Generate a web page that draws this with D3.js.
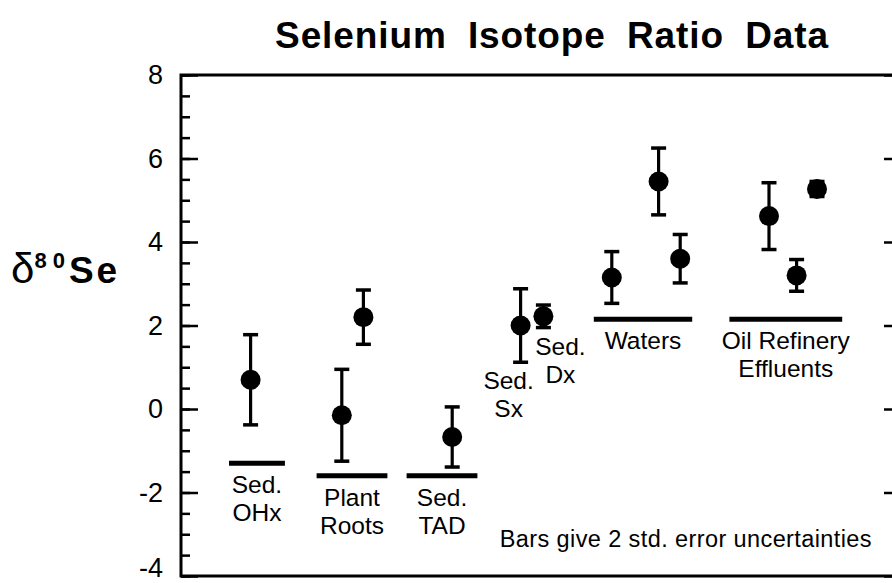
<!DOCTYPE html>
<html>
<head>
<meta charset="utf-8">
<script src="https://cdn.jsdelivr.net/npm/d3@7"></script>
<style>
  html, body { margin: 0; padding: 0; background: #fff; }
  svg { display: block; }
  text { font-family: "Liberation Sans", Arial, Helvetica, sans-serif; fill: #000; }
</style>
</head>
<body>
<svg id="chart" width="892" height="583"></svg>
<script>
// Individual measurements: position along the sample axis, δ80Se value, 2 s.e. uncertainty
const sampleGroup   = ["Sed. OHx", "Plant Roots", "Plant Roots", "Sed. TAD", "Sed. Sx", "Sed. Dx",
                       "Waters", "Waters", "Waters",
                       "Oil Refinery Effluents", "Oil Refinery Effluents", "Oil Refinery Effluents"];
const samplePosition = [2.9, 6.7, 7.6, 11.3, 14.15, 15.1, 17.95, 19.9, 20.8, 24.5, 25.65, 26.5];
const delta80Se      = [0.7, -0.15, 2.2, -0.67, 2.0, 2.22, 3.15, 5.45, 3.6, 4.62, 3.2, 5.27];
const twoStdErr      = [1.08, 1.1, 0.65, 0.72, 0.88, 0.27, 0.62, 0.8, 0.58, 0.8, 0.38, 0.18];

// Sample groups: label lines and the reference bar drawn under each group
const groupName      = ["Sed. OHx", "Plant Roots", "Sed. TAD", "Sed. Sx", "Sed. Dx", "Waters", "Oil Refinery Effluents"];
const groupLabel     = [["Sed.", "OHx"], ["Plant", "Roots"], ["Sed.", "TAD"], ["Sed.", "Sx"], ["Sed.", "Dx"],
                        ["Waters"], ["Oil Refinery", "Effluents"]];
const groupBarValue  = [-1.3, -1.6, -1.6, null, null, 2.15, 2.15];
const groupBarStart  = [2.0, 5.65, 9.4, null, null, 17.2, 22.85];
const groupBarEnd    = [4.33, 8.6, 12.35, null, null, 21.3, 27.55];

// Axis ticks
const majorTicks = [-4, -2, 0, 2, 4, 6, 8];
const minorTicks = d3.range(-4, 8.01, 0.5);

const chartTitle = "Selenium Isotope Ratio Data";
const footnote   = "Bars give 2 std. error uncertainties";

// ---- layout ----
const frame = { left: 181, right: 901, top: 75, bottom: 576 };
const font = '"Liberation Sans", Arial, Helvetica, sans-serif';
// horizontal nudges for labels of groups that have no reference bar
const labelNudge = { "Sed. Sx": -12, "Sed. Dx": 17 };

const svg = d3.select("#chart");

const x = d3.scaleLinear().domain([0, 30]).range([frame.left, frame.right]);
const y = d3.scaleLinear().domain([-4, 8]).range([frame.bottom, frame.top]);

// title
svg.append("text")
  .attr("x", 552).attr("y", 48)
  .attr("text-anchor", "middle")
  .style("font-size", "37px").style("font-weight", "bold")
  .style("word-spacing", "10px").style("letter-spacing", "0.9px")
  .text(chartTitle);

// y axis title: δ80Se
const yTitle = svg.append("text")
  .attr("x", 11).attr("y", 283)
  .style("font-weight", "bold");
yTitle.append("tspan").style("font-size", "42px").style("font-weight", "normal").text("δ");
yTitle.append("tspan").attr("dy", -15).style("font-size", "22px").style("letter-spacing", "6px").text("80");
yTitle.append("tspan").attr("dy", 15).attr("dx", -2).style("font-size", "37px").style("letter-spacing", "3px").text("Se");

const g = svg.append("g");

// minor ticks (left, inward)
g.append("g")
  .attr("transform", `translate(${frame.left},0)`)
  .call(d3.axisLeft(y).tickValues(minorTicks).tickSize(-9).tickFormat(""))
  .call(s => s.select(".domain").remove())
  .call(s => s.selectAll("line").attr("stroke", "#000").attr("stroke-width", 2.5));

// major ticks with labels (left, inward); the bottom label is lifted to stay on the page
g.append("g")
  .attr("transform", `translate(${frame.left},0)`)
  .call(d3.axisLeft(y).tickValues(majorTicks).tickSize(-17).tickPadding(18).tickFormat(d3.format("d")))
  .call(s => s.select(".domain").remove())
  .call(s => s.selectAll("line").attr("stroke", "#000").attr("stroke-width", 2.5))
  .call(s => s.selectAll("text")
      .style("font-family", font).style("font-size", "27px").attr("fill", "#000")
      .attr("dy", d => d === -4 ? "0.02em" : "0.32em")
      .text(d => d < 0 ? "-" + Math.abs(d) : d));

// major ticks on the right side
g.append("g")
  .attr("transform", `translate(${frame.right},0)`)
  .call(d3.axisRight(y).tickValues(majorTicks).tickSize(-17).tickFormat(""))
  .call(s => s.select(".domain").remove())
  .call(s => s.selectAll("line").attr("stroke", "#000").attr("stroke-width", 2.5));

// frame
g.append("rect")
  .attr("x", frame.left).attr("y", frame.top)
  .attr("width", frame.right - frame.left).attr("height", frame.bottom - frame.top)
  .attr("fill", "none").attr("stroke", "#000").attr("stroke-width", 3);

// group reference bars
const groups = groupName.map((name, i) => ({
  name, lines: groupLabel[i], value: groupBarValue[i], x0: groupBarStart[i], x1: groupBarEnd[i]
}));

g.selectAll("line.groupbar")
  .data(groups.filter(d => d.value !== null))
  .join("line")
  .attr("class", "groupbar")
  .attr("x1", d => x(d.x0)).attr("x2", d => x(d.x1))
  .attr("y1", d => y(d.value)).attr("y2", d => y(d.value))
  .attr("stroke", "#000").attr("stroke-width", 5);

// measurements
const samples = delta80Se.map((v, i) => ({
  group: sampleGroup[i], pos: samplePosition[i], value: v, err: twoStdErr[i]
}));

const capHalf = 7.5;
const pts = g.selectAll("g.sample").data(samples).join("g").attr("class", "sample");
pts.append("line")
  .attr("x1", d => x(d.pos)).attr("x2", d => x(d.pos))
  .attr("y1", d => y(d.value + d.err)).attr("y2", d => y(d.value - d.err))
  .attr("stroke", "#000").attr("stroke-width", 3.2);
pts.selectAll("line.cap")
  .data(d => [d.value + d.err, d.value - d.err].map(v => ({ pos: d.pos, v })))
  .join("line").attr("class", "cap")
  .attr("x1", d => x(d.pos) - capHalf).attr("x2", d => x(d.pos) + capHalf)
  .attr("y1", d => y(d.v)).attr("y2", d => y(d.v))
  .attr("stroke", "#000").attr("stroke-width", 3.5);
pts.append("circle")
  .attr("cx", d => x(d.pos)).attr("cy", d => y(d.value))
  .attr("r", 10).attr("fill", "#000");

// group labels: under the reference bar, or under the single sample's error bar
groups.forEach(grp => {
  let cx, top;
  if (grp.value !== null) {
    cx = (x(grp.x0) + x(grp.x1)) / 2;
    top = y(grp.value) + 30;
  } else {
    const s = samples.find(d => d.group === grp.name);
    cx = x(s.pos) + (labelNudge[grp.name] || 0);
    top = y(s.value - s.err) + 27;
  }
  const t = g.append("text")
    .attr("text-anchor", "middle")
    .style("font-size", "24.5px");
  grp.lines.forEach((line, k) => {
    t.append("tspan").attr("x", cx).attr("y", top + k * 28).text(line);
  });
});

// footnote
g.append("text")
  .attr("x", 872).attr("y", 547)
  .attr("text-anchor", "end")
  .style("font-size", "23.5px")
  .style("letter-spacing", "0.4px")
  .text(footnote);
</script>
</body>
</html>
